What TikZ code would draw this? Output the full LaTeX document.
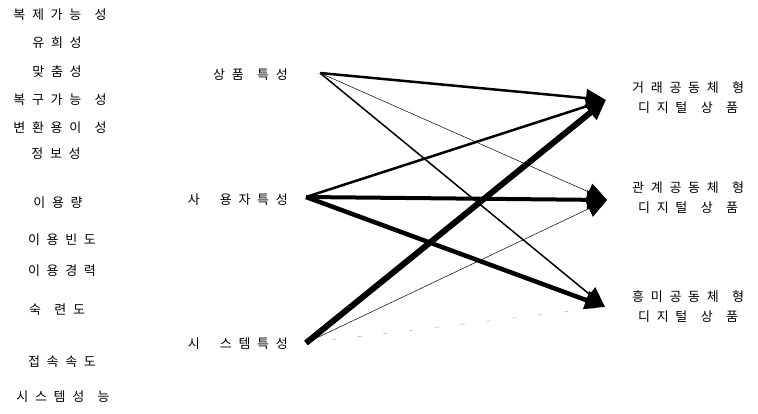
\documentclass[tikz,border=0pt]{standalone}
\usepackage{fontspec}
\newfontfamily\kr[WordSpace=2.3]{Noto Sans CJK KR}
\usepackage{tikz}
\usetikzlibrary{arrows.meta,positioning}

\begin{document}
\begin{tikzpicture}[
    x=1pt, y=-1pt,
    attr/.style={font=\kr\fontsize{13}{15}\selectfont, inner sep=1pt},
    group/.style={font=\kr\fontsize{13}{15}\selectfont, inner sep=1pt, anchor=east},
    product/.style={font=\kr\fontsize{13}{20}\selectfont, align=center, inner sep=1pt},
    link/.style={-{Triangle[length=20pt,width=18pt]}},
    weak/.style={line width=0.5pt},
    faint/.style={gray!70, line width=0.5pt, dash pattern=on 4pt off 22pt}
]
    \useasboundingbox (0,0) rectangle (758,413);

    % Attributes (left column)
    \node [attr] (copy)    at (60,15)  {복 제 가 능~ 성};
    \node [attr] (play)    at (57,43)  {유 희 성};
    \node [attr] (custom)  at (57,72)  {맞 춤 성};
    \node [attr] (restore) at (60,100) {복 구 가 능~ 성};
    \node [attr] (convert) at (60,128) {변 환 용 이~ 성};
    \node [attr] (info)    at (56,154) {정 보 성};
    \node [attr] (amount)  at (58,203) {이 용 량};
    \node [attr] (freq)    at (62,240) {이 용 빈 도};
    \node [attr] (career)  at (62,271) {이 용 경 력};
    \node [attr] (skill)   at (57,310) {숙~ 련 도};
    \node [attr] (speed)   at (62,362) {접 속 속 도};
    \node [attr] (perf)    at (63,397) {시 스 템 성~ 능};

    % Characteristic groups (middle)
    \node [group] (prod) at (289,75)  {상 품~ 특 성};
    \node [group] (user) at (289,200) {사~~ 용 자 특 성};
    \node [group] (sys)  at (289,344) {시~~ 스 템 특 성};

    \coordinate (prod-out) at (320,73);
    \coordinate (user-out) at (306,197);
    \coordinate (sys-out)  at (306,343);

    % Digital product types (right)
    \coordinate (tr-tip)  at (606,100);
    \coordinate (rel-tip) at (607,200);
    \coordinate (fun-tip) at (605,307);

    \node [product, right=25pt of tr-tip, yshift=2pt]  (tr)  {거 래 공 동 체~ 형\\디 지 털~ 상~ 품};
    \node [product, right=24pt of rel-tip, yshift=2pt] (rel) {관 계 공 동 체~ 형\\디 지 털~ 상~ 품};
    \node [product, right=26pt of fun-tip]             (fun) {흥 미 공 동 체~ 형\\디 지 털~ 상~ 품};

    % Connections
    \draw [faint] (sys-out) -- (fun-tip);
    \draw [link, weak] (prod-out) -- (rel-tip);
    \draw [link, weak] (sys-out) -- (rel-tip);
    \draw [link, line width=1.5pt] (prod-out) -- (fun-tip);
    \draw [link, line width=2.5pt] (user-out) -- (tr-tip);
    \draw [link, line width=2.5pt] (prod-out) -- (tr-tip);
    \draw [link, line width=4pt] (user-out) -- (rel-tip);
    \draw [link, line width=4.5pt] (user-out) -- (fun-tip);
    \draw [link, line width=6pt] (sys-out) -- (tr-tip);

\end{tikzpicture}
\end{document}
